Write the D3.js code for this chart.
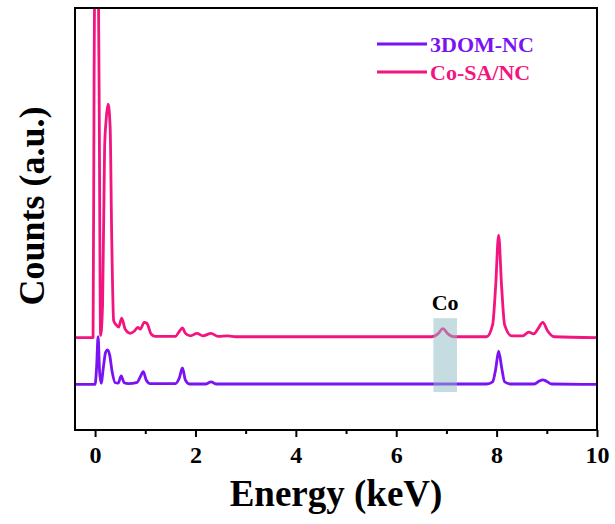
<!DOCTYPE html>
<html>
<head>
<meta charset="utf-8">
<script src="https://cdn.jsdelivr.net/npm/d3@7"></script>
<style>
  html, body { margin: 0; padding: 0; background: #ffffff; }
  svg text { font-family: 'Liberation Serif', 'Times New Roman', serif; font-weight: bold; }
</style>
</head>
<body>
<div id="chart"></div>
<script>
'use strict';

// ── Data ────────────────────────────────────────────────────────────────────
const seriesNames = ['3DOM-NC', 'Co-SA/NC'];
const seriesColors = ['#7a12f2', '#f2157f'];
const seriesOffsets = [10.8, 21.9];   // vertical stacking of the two spectra

const energyA = [-0.4, 0.00, 0.03, 0.06, 0.09, 0.12, 0.17, 0.21, 0.25, 0.29, 0.34, 0.40,
  0.46, 0.52, 0.58, 0.66, 0.84, 0.90, 0.96, 1.02, 1.10, 1.60, 1.68, 1.74, 1.80, 1.88,
  2.20, 2.31, 2.42, 7.80, 7.92, 7.98, 8.04, 8.10, 8.16, 8.30, 8.75, 8.85, 8.92, 9.00,
  9.10, 10.0];
const countsA = [0, 0, 4.0, 11.3, 3.0, 0.3, 4.5, 7.6, 8.2, 7.0, 3.0, 0.4,
  0.3, 2.0, 0.4, 0.2, 0.5, 1.8, 3.0, 1.0, 0.2, 0.2, 1.6, 3.9, 1.0, 0.1,
  0.1, 0.6, 0.1, 0.1, 0.6, 3.5, 7.9, 4.0, 0.6, 0.1, 0.1, 0.8, 1.1, 0.7,
  0.1, 0];

const energyB = [-0.4, -0.04, -0.02, 0.03, 0.08, 0.11, 0.15, 0.19, 0.22, 0.26, 0.30, 0.33,
  0.37, 0.42, 0.47, 0.53, 0.60, 0.70, 0.78, 0.85, 0.90, 0.98, 1.03, 1.12, 1.20, 1.60,
  1.68, 1.74, 1.80, 1.90, 2.03, 2.15, 2.31, 2.45, 2.65, 2.80, 6.70, 6.83, 6.93, 7.03,
  7.15, 7.80, 7.92, 7.98, 8.04, 8.10, 8.16, 8.30, 8.52, 8.64, 8.74, 8.82, 8.92, 9.02,
  9.15, 10.0];
const countsB = [0, 0, 60, 120, 60, 0.5, 8, 45, 51.5, 55.3, 50, 25,
  4.0, 3.0, 2.5, 4.6, 2.0, 1.0, 1.5, 2.4, 2.0, 3.6, 3.4, 0.8, 0.3, 0.3,
  1.5, 2.3, 1.0, 0.4, 1.0, 0.4, 1.0, 0.3, 0.4, 0.2, 0.2, 0.9, 2.1, 0.9,
  0.2, 0.2, 3.0, 12, 24.3, 12, 3.0, 0.4, 0.4, 1.3, 0.9, 2.0, 3.6, 1.5,
  0.2, 0];

const xTicks = [0, 2, 4, 6, 8, 10];
const xMinorTicks = [1, 3, 5, 7, 9];

const coBand = [6.74, 7.21];          // keV range of the highlighted Co region
const coBandCounts = [9.0, 26.5];

// ── Layout ─────────────────────────────────────────────────────────────────
const fullW = 615, fullH = 524;
const margin = { top: 8, right: 18, bottom: 94, left: 75 };
const W = fullW - margin.left - margin.right;
const H = fullH - margin.top - margin.bottom;

const x = d3.scaleLinear().domain([-0.4, 10]).range([0, W]);
const y = d3.scaleLinear().domain([0, 100]).range([H, 0]);

const svg = d3.select('#chart')
  .append('svg')
  .attr('width', fullW)
  .attr('height', fullH);

svg.append('defs').append('clipPath').attr('id', 'plot-clip')
  .append('rect').attr('width', W).attr('height', H);

const g = svg.append('g').attr('transform', `translate(${margin.left},${margin.top})`);

// ── Spectra ─────────────────────────────────────────────────────────────────
const spectra = [
  energyA.map((e, i) => ({ e, c: countsA[i] + seriesOffsets[0] })),
  energyB.map((e, i) => ({ e, c: countsB[i] + seriesOffsets[1] })),
];

const line = d3.line()
  .x(d => x(d.e))
  .y(d => y(d.c))
  .curve(d3.curveMonotoneX);

const plot = g.append('g').attr('clip-path', 'url(#plot-clip)');

plot.selectAll('path.spectrum')
  .data(spectra)
  .join('path')
  .attr('class', 'spectrum')
  .attr('fill', 'none')
  .attr('stroke', (d, i) => seriesColors[i])
  .attr('stroke-width', 2.8)
  .attr('stroke-linejoin', 'round')
  .attr('d', line);

// Co highlight band (drawn over the traces, translucent)
plot.append('rect')
  .attr('x', x(coBand[0]))
  .attr('width', x(coBand[1]) - x(coBand[0]))
  .attr('y', y(coBandCounts[1]))
  .attr('height', y(coBandCounts[0]) - y(coBandCounts[1]))
  .attr('fill', '#8bbcc4')
  .attr('opacity', 0.5);

g.append('text')
  .attr('x', x((coBand[0] + coBand[1]) / 2))
  .attr('y', y(coBandCounts[1]) - 8)
  .attr('text-anchor', 'middle')
  .attr('font-size', '22px')
  .attr('fill', '#000')
  .text('Co');

// ── Axes & frame ────────────────────────────────────────────────────────────
const xAxis = g.append('g').attr('transform', `translate(0,${H})`)
  .call(d3.axisBottom(x).tickValues(xTicks).tickSize(7).tickSizeOuter(0).tickPadding(9));
xAxis.select('.domain').remove();
xAxis.selectAll('line').attr('stroke', '#000').attr('stroke-width', 2);
xAxis.selectAll('text')
  .attr('font-size', '24px')
  .attr('fill', '#000')
  .style('font-family', "'Liberation Serif', serif")
  .style('font-weight', 'bold');

const xMinor = g.append('g').attr('transform', `translate(0,${H})`)
  .call(d3.axisBottom(x).tickValues(xMinorTicks).tickSize(4).tickSizeOuter(0).tickFormat(''));
xMinor.select('.domain').remove();
xMinor.selectAll('line').attr('stroke', '#000').attr('stroke-width', 2);

g.append('rect')
  .attr('width', W)
  .attr('height', H)
  .attr('fill', 'none')
  .attr('stroke', '#000')
  .attr('stroke-width', 2);

// ── Axis titles ─────────────────────────────────────────────────────────────
svg.append('text')
  .attr('x', margin.left + W / 2)
  .attr('y', 506)
  .attr('text-anchor', 'middle')
  .attr('font-size', '37px')
  .text('Energy (keV)');

svg.append('text')
  .attr('transform', 'translate(44,206) rotate(-90)')
  .attr('text-anchor', 'middle')
  .attr('font-size', '36px')
  .text('Counts (a.u.)');

// ── Legend ─────────────────────────────────────────────────────────────────
const legend = svg.append('g').attr('transform', 'translate(377,44)');
const item = legend.selectAll('g')
  .data(seriesNames)
  .join('g')
  .attr('transform', (d, i) => `translate(0,${i * 28})`);

item.append('line')
  .attr('x1', 0).attr('x2', 50)
  .attr('stroke', (d, i) => seriesColors[i])
  .attr('stroke-width', 2.8);

item.append('text')
  .attr('x', 53)
  .attr('dy', '0.35em')
  .attr('font-size', '22px')
  .attr('fill', (d, i) => seriesColors[i])
  .text(d => d);
</script>
</body>
</html>
